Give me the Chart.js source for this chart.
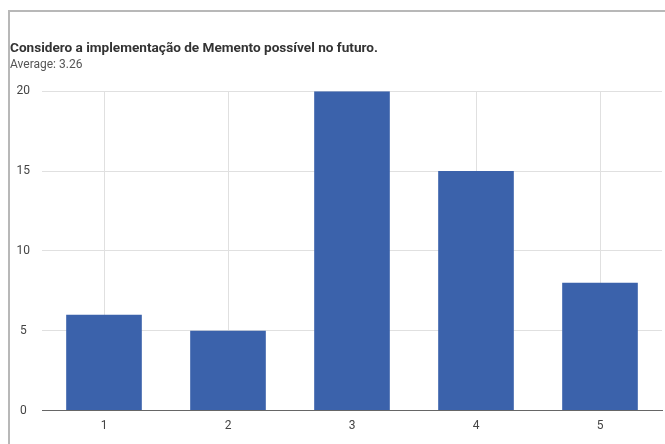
<!DOCTYPE html>
<html>
<head>
<meta charset="utf-8">
<script src="https://cdn.jsdelivr.net/npm/chart.js@4"></script>
<style>
  html, body { margin: 0; padding: 0; background: #fff; }
  #wrap { position: relative; width: 665px; height: 444px; }
  #frame { position: absolute; left: 8px; top: 10px; right: 0; bottom: 0;
           border-left: 2px solid #b8b8b8; border-top: 2px solid #b8b8b8; pointer-events: none; }
</style>
</head>
<body>
<div id="wrap">
  <canvas id="chart" width="665" height="444"></canvas>
  <div id="frame"></div>
</div>
<script>
const categories = ['1', '2', '3', '4', '5'];
const counts = [6, 5, 20, 15, 8];
const yTicks = [0, 5, 10, 15, 20];
const titleText = 'Considero a implementação de Memento possível no futuro.';
const subtitleText = 'Average: 3.26';

const ctx = document.getElementById('chart').getContext('2d');
new Chart(ctx, {
  type: 'bar',
  data: {
    labels: categories,
    datasets: [{
      data: counts,
      backgroundColor: '#3b62ab',
      borderWidth: 0,
      categoryPercentage: 1,
      barPercentage: 0.61
    }]
  },
  options: {
    responsive: false,
    animation: false,
    layout: { padding: { top: 40, left: 10, right: 3, bottom: 3 } },
    plugins: {
      legend: { display: false },
      tooltip: { enabled: false },
      title: {
        display: true, text: titleText, align: 'start', color: '#333',
        font: { family: 'Roboto', size: 13.6, weight: 'bold' },
        padding: { top: 0, bottom: 1 }
      },
      subtitle: {
        display: true, text: subtitleText, align: 'start', color: '#555',
        font: { family: 'Roboto', size: 12 },
        padding: { top: 0, bottom: 19.5 }
      }
    },
    scales: {
      x: {
        grid: { offset: false, color: '#e0e0e0', drawTicks: false },
        border: { display: true, color: '#666', width: 1 },
        ticks: { color: '#444', font: { family: 'Roboto', size: 12 }, padding: 8 }
      },
      y: {
        min: 0, max: 20,
        afterBuildTicks: axis => { axis.ticks = yTicks.map(v => ({ value: v })); },
        afterFit: axis => { axis.width = 32; },
        grid: { color: c => c.tick && c.tick.value === 0 ? '#666' : '#e0e0e0', drawTicks: false },
        border: { display: false },
        ticks: { color: '#444', font: { family: 'Roboto', size: 12 }, padding: 12, crossAlign: 'center' }
      }
    }
  }
});
</script>
</body>
</html>
